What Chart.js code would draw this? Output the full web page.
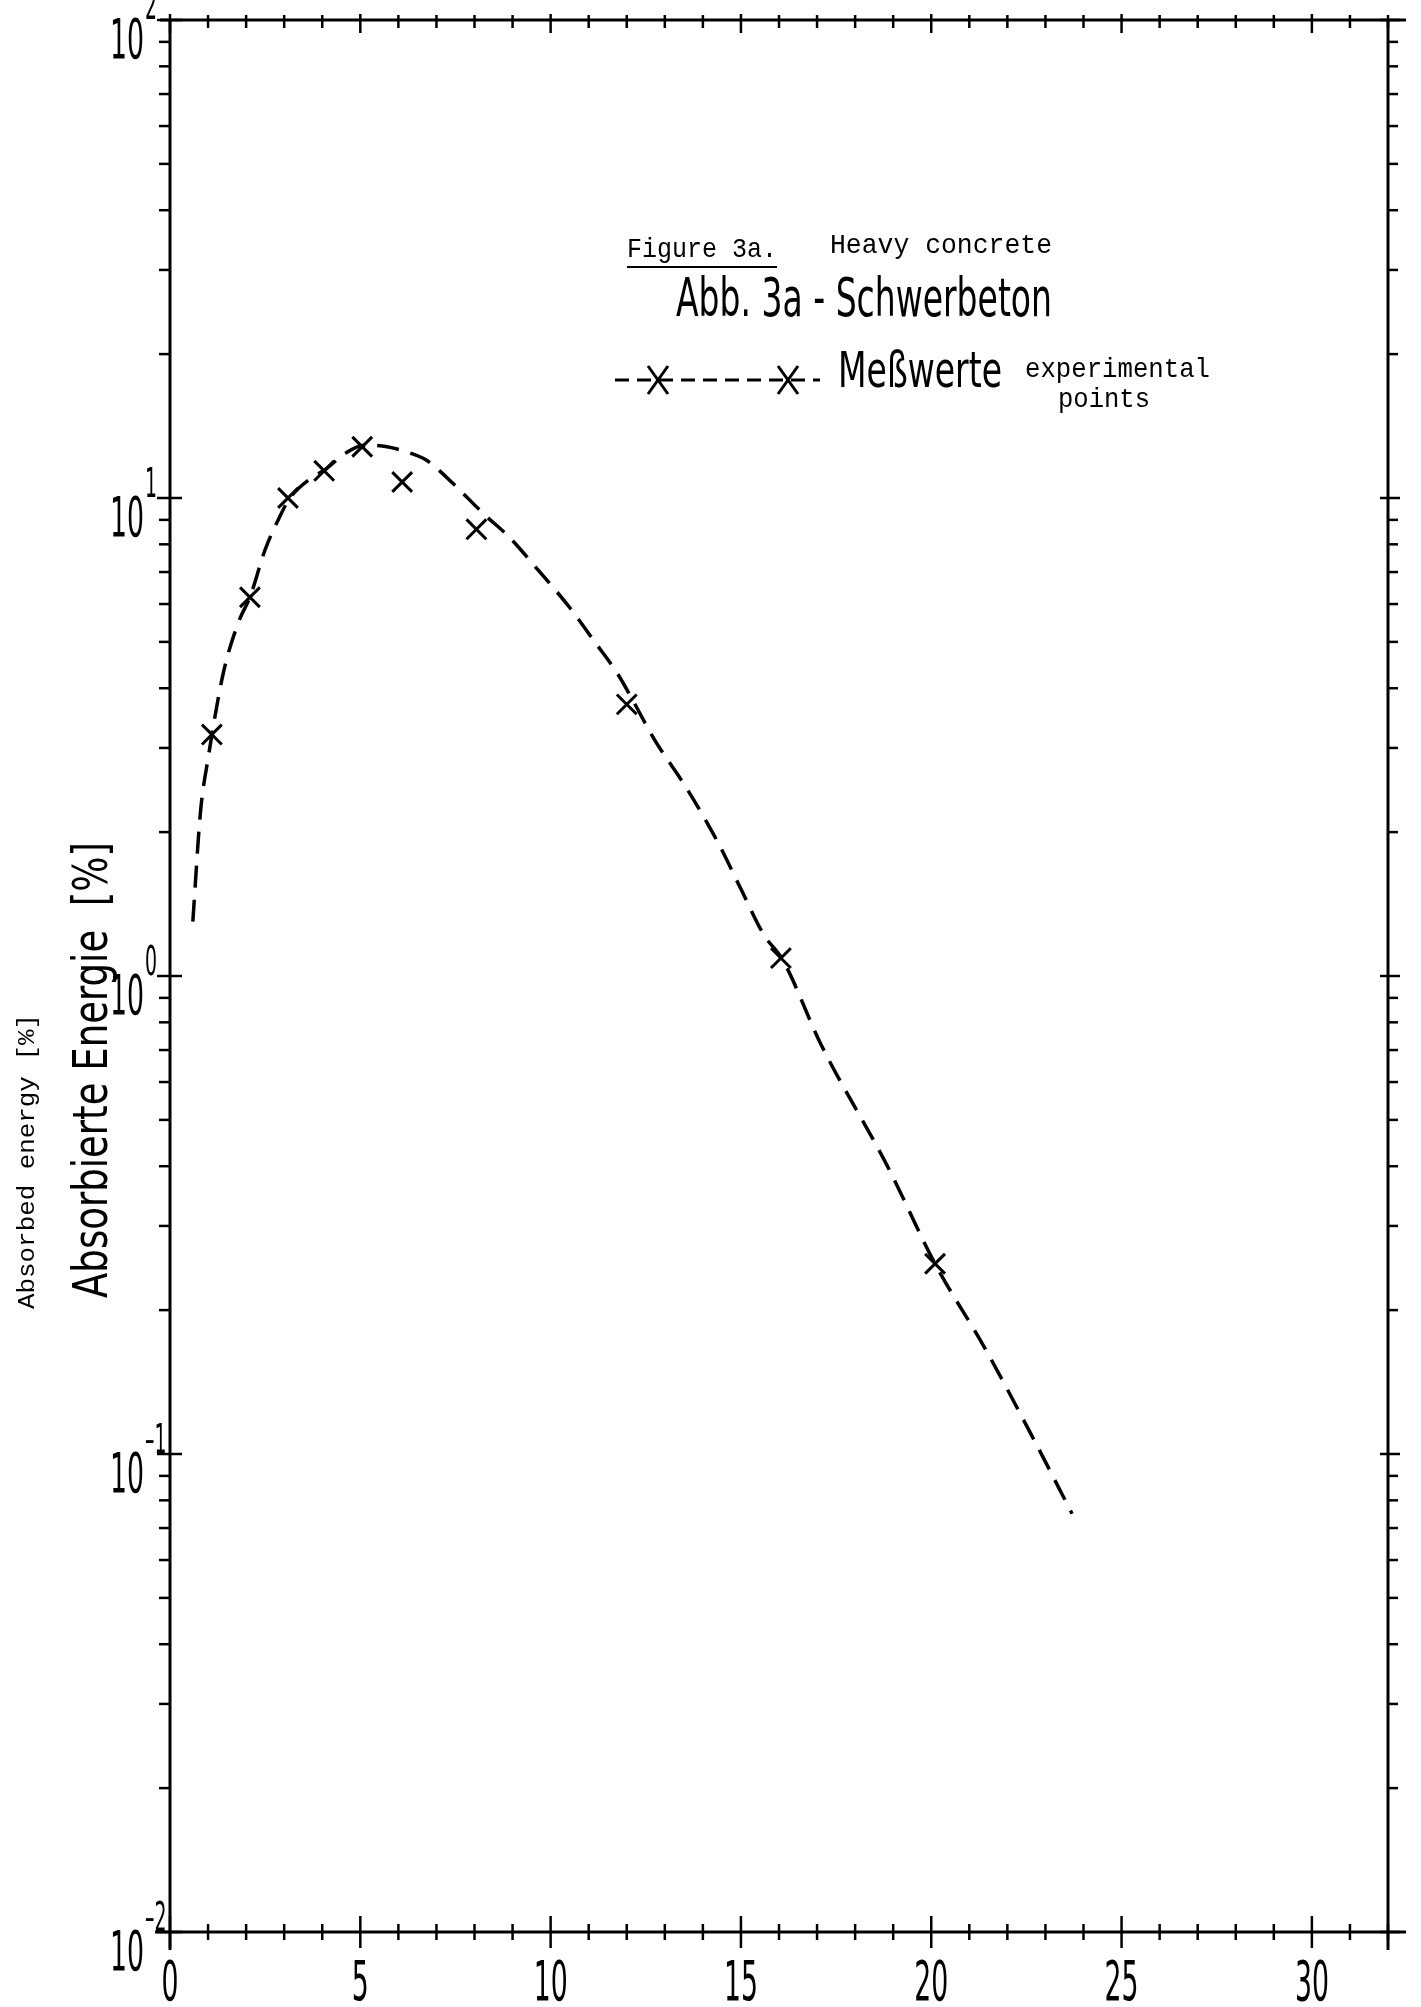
<!DOCTYPE html>
<html>
<head>
<meta charset="utf-8">
<title>Abb. 3a - Schwerbeton</title>
<script src="https://cdn.jsdelivr.net/npm/chart.js@4.4.1/dist/chart.umd.min.js"></script>
<style>
  html, body { margin: 0; padding: 0; background: #fff; }
  canvas { display: block; }
</style>
</head>
<body>
<canvas id="chart" width="1421" height="2007"></canvas>
<script>
// Dashed curve (absorbed energy vs thickness)
const curveX = [0.6, 0.8, 1.0, 1.4, 1.8, 2.1, 2.5, 2.9, 3.15, 3.7, 4.1, 4.6, 5.1, 5.7, 6.2, 6.7, 7.0, 7.5, 8.25, 8.9, 9.65, 10.5, 11.2, 11.75, 12.1, 12.7, 13.6, 14.4, 15.0, 15.6, 16.1, 17.1, 18.85, 20.1, 21.4, 22.7, 23.7];
const curveY = [1.30, 2.2, 2.85, 4.3, 5.5, 6.2, 7.8, 9.2, 10.0, 11.0, 11.5, 12.4, 12.9, 12.8, 12.5, 12.05, 11.55, 10.6, 9.25, 8.3, 7.1, 5.9, 4.95, 4.3, 3.85, 3.15, 2.45, 1.9, 1.52, 1.22, 1.08, 0.72, 0.40, 0.25, 0.167, 0.107, 0.075];

// Messwerte / experimental points
const pointX = [1.1, 2.1, 3.1, 4.05, 5.05, 6.1, 8.05, 12.0, 16.05, 20.1];
const pointY = [3.2, 6.2, 10.0, 11.4, 12.8, 10.8, 8.6, 3.7, 1.09, 0.25];

// Axis ticks and labels
const xTickValues = [0, 5, 10, 15, 20, 25, 30];
const xTickLabels = ['0', '5', '10', '15', '20', '25', '30'];
const yTickValues = [0.01, 0.1, 1, 10, 100];
const yTickBase = '10';
const yTickExps = ['-2', '-1', '0', '1', '2'];

// Texts
const titleTexts = ['Figure 3a.', 'Heavy concrete', 'Abb. 3a - Schwerbeton'];
const legendTexts = ['Meßwerte', 'experimental', 'points'];
const yTitles = ['Absorbierte Energie  [%]', 'Absorbed energy [%]'];

const condensed = '"Liberation Sans Narrow", "DejaVu Sans Condensed", "Liberation Sans", sans-serif';
const typewriter = '"Liberation Mono", "DejaVu Sans Mono", monospace';

// draw text squeezed/stretched to a target width
function fitText(ctx, text, x, y, o) {
  ctx.save();
  ctx.translate(x, y);
  if (o.angle) ctx.rotate(o.angle);
  ctx.font = (o.weight || 'normal') + ' ' + o.size + 'px ' + o.family;
  const w = ctx.measureText(text).width;
  let sx = 1;
  if (o.width) sx = o.width / w;
  if (o.digit) sx = o.digit / ctx.measureText('0').width;
  ctx.scale(sx, 1);
  ctx.textBaseline = 'alphabetic';
  ctx.textAlign = 'left';
  let dx = 0;
  if (o.align === 'center') dx = -w / 2;
  if (o.align === 'right') dx = -w;
  ctx.fillStyle = '#000';
  ctx.fillText(text, dx, 0);
  ctx.restore();
}

function seg(ctx, x1, y1, x2, y2) {
  ctx.beginPath();
  ctx.moveTo(x1, y1);
  ctx.lineTo(x2, y2);
  ctx.stroke();
}

const paperPlugin = {
  id: 'paper',
  beforeDraw(chart) {
    const ctx = chart.ctx;
    ctx.save();
    ctx.fillStyle = '#fff';
    ctx.fillRect(0, 0, chart.width, chart.height);
    ctx.restore();
  },
  afterDraw(chart) {
    const ctx = chart.ctx;
    const { left, right, top, bottom } = chart.chartArea;
    const xs = chart.scales.x;
    const ys = chart.scales.y;
    ctx.save();
    ctx.strokeStyle = '#000';
    ctx.lineCap = 'butt';

    // frame
    ctx.lineWidth = 3;
    seg(ctx, left - 15, bottom, right + 18, bottom);
    seg(ctx, left - 10, top, right + 18, top);
    seg(ctx, left, top, left, bottom + 18);
    seg(ctx, right, top, right, bottom + 18);

    // x ticks, top and bottom
    ctx.lineWidth = 2.5;
    for (let v = 0; v <= 32; v++) {
      const px = xs.getPixelForValue(v);
      const major = v % 5 === 0;
      seg(ctx, px, bottom - (major ? 16 : 8), px, bottom + (major ? 16 : 8));
      seg(ctx, px, top - (major ? 6 : 5), px, top + (major ? 13 : 8));
    }

    // y ticks, left and right
    for (let i = 0; i < yTickValues.length; i++) {
      const dec = yTickValues[i];
      const py = ys.getPixelForValue(dec);
      seg(ctx, left - 13, py, left + 12, py);
      seg(ctx, right - 8, py, right + 12, py);
      if (i === yTickValues.length - 1) break;
      for (let m = 2; m <= 9; m++) {
        const my = ys.getPixelForValue(dec * m);
        seg(ctx, left - 11, my, left, my);
        seg(ctx, right, my, right + 10, my);
      }
    }

    // x tick labels
    xTickValues.forEach((v, i) => {
      fitText(ctx, xTickLabels[i], xs.getPixelForValue(v), 2000,
        { size: 55, family: condensed, digit: 17, align: 'center' });
    });

    // y tick labels 10^n
    yTickValues.forEach((v, i) => {
      const py = ys.getPixelForValue(v);
      fitText(ctx, yTickBase, 144, py + 38, { size: 55, family: condensed, digit: 17, align: 'right' });
      fitText(ctx, yTickExps[i].replace('-', '\u2013'), 145, py - 1,
        { size: 40, family: condensed, digit: 12, align: 'left' });
    });

    // axis titles (rotated)
    fitText(ctx, yTitles[0], 107, 1298, { size: 48, family: condensed, width: 456, angle: -Math.PI / 2 });
    fitText(ctx, yTitles[1], 34, 1309, { size: 24, family: typewriter, width: 295, angle: -Math.PI / 2 });

    // title block
    fitText(ctx, titleTexts[0], 627, 257, { size: 28, family: typewriter, width: 150 });
    ctx.lineWidth = 2;
    seg(ctx, 627, 267, 777, 267);
    fitText(ctx, titleTexts[1], 830, 253, { size: 28, family: typewriter, width: 222 });
    fitText(ctx, titleTexts[2], 676, 316, { size: 54, family: condensed, width: 376 });

    // legend sample
    ctx.lineWidth = 3;
    ctx.setLineDash([14, 8]);
    seg(ctx, 615, 380, 820, 380);
    ctx.setLineDash([]);
    [658, 788].forEach(cx => {
      seg(ctx, cx - 10, 366, cx + 10, 394);
      seg(ctx, cx + 10, 366, cx - 10, 394);
    });
    fitText(ctx, legendTexts[0], 838, 387, { size: 49, family: condensed, width: 164 });
    fitText(ctx, legendTexts[1], 1025, 377, { size: 28, family: typewriter, width: 185 });
    fitText(ctx, legendTexts[2], 1058, 407, { size: 28, family: typewriter, width: 92 });

    ctx.restore();
  }
};

const curveData = curveX.map((x, i) => ({ x: x, y: curveY[i] }));
const pointData = pointX.map((x, i) => ({ x: x, y: pointY[i] }));

const hiddenAxis = {
  grid: { display: false },
  border: { display: false },
  ticks: { display: false }
};

new Chart(document.getElementById('chart'), {
  type: 'scatter',
  data: {
    datasets: [
      {
        label: 'Kurve',
        data: curveData,
        showLine: true,
        borderColor: '#000',
        borderWidth: 3.5,
        borderDash: [22, 12],
        borderCapStyle: 'butt',
        cubicInterpolationMode: 'monotone',
        pointRadius: 0,
        fill: false
      },
      {
        label: 'Meßwerte',
        data: pointData,
        showLine: false,
        pointStyle: 'crossRot',
        pointRadius: 14,
        pointBorderWidth: 3,
        borderColor: '#000',
        backgroundColor: '#000'
      }
    ]
  },
  options: {
    responsive: false,
    devicePixelRatio: 1,
    animation: false,
    layout: { padding: 0 },
    plugins: { legend: { display: false }, tooltip: { enabled: false } },
    scales: {
      x: Object.assign({ type: 'linear', position: 'bottom', min: 0, max: 32,
        afterFit: s => { s.height = 75; } }, hiddenAxis),
      xTop: Object.assign({ type: 'linear', position: 'top', min: 0, max: 32,
        afterFit: s => { s.height = 20; } }, hiddenAxis),
      y: Object.assign({ type: 'logarithmic', position: 'left', min: 0.01, max: 100,
        afterFit: s => { s.width = 170; } }, hiddenAxis),
      yRight: Object.assign({ type: 'logarithmic', position: 'right', min: 0.01, max: 100,
        afterFit: s => { s.width = 33; } }, hiddenAxis)
    }
  },
  plugins: [paperPlugin]
});
</script>
</body>
</html>
